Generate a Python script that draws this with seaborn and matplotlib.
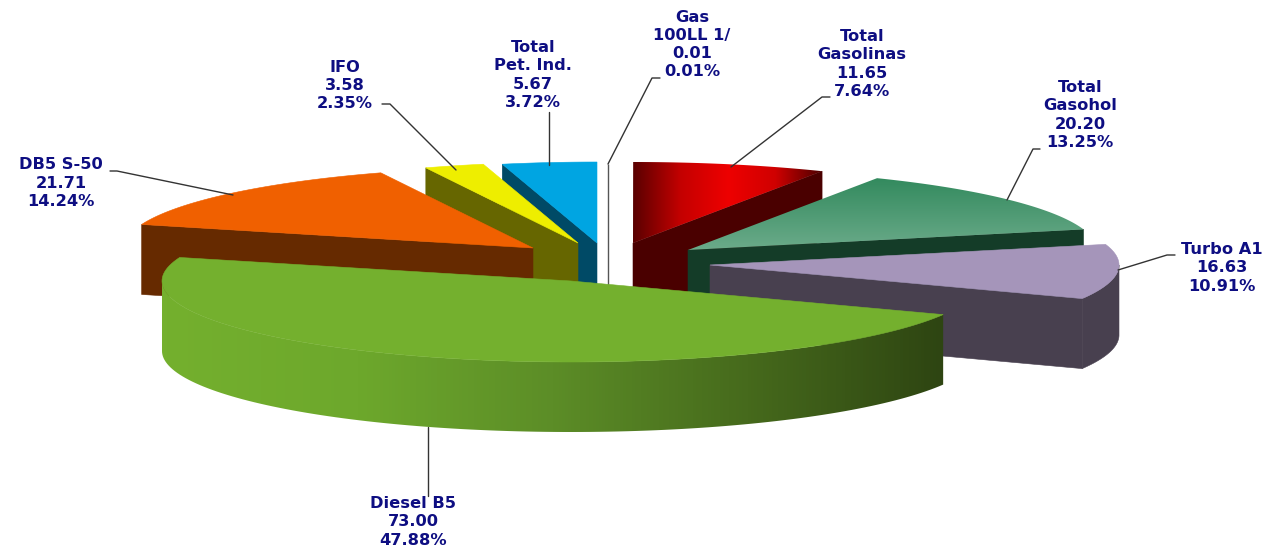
import numpy as np
import matplotlib
matplotlib.use("Agg")
import matplotlib.pyplot as plt
from matplotlib.patches import Polygon
import seaborn as sns

# clockwise from 12 o'clock
names = ["Gas\n100LL 1/", "Total\nGasolinas", "Total\nGasohol", "Turbo A1",
         "Diesel B5", "DB5 S-50", "IFO", "Total\nPet. Ind."]
values = [0.01, 11.65, 20.20, 16.63, 73.00, 21.71, 3.58, 5.67]

# where each exploded slice has its tip, in pixels
tip_x = [608, 633, 688, 710, 571, 533, 578, 597]
tip_y = [245, 243, 250, 265, 281, 248, 243, 243]
# colours: top face stops, then side wall
tops = [["#555555"],
        ["#5a0000", "#c40000", "#ee0000", "#d00000", "#4a0000"],
        ["#338a5e", "#6bab8a"],
        ["#a595ba"],
        ["#74b02e"],
        ["#f06000"],
        ["#eeee00"],
        ["#00a5e2"]]
walls = ["#555555", "#4a0000", "#143c28", "#48404f",
         ["#74b02e", "#6da82c", "#5c8d27", "#466a1c", "#2e4512"],
         "#662a00", "#666600", "#004a66"]
vertical_grad = [False, False, True, False, False, False, False, False]
# back to front
draw_order = [1, 0, 7, 6, 2, 5, 3, 4]

label_x = [692, 862, 1080, 1222, 413, 61, 345, 533]
label_y = [44.5, 64, 115, 268, 522, 183, 85.5, 75]
leaders = [[(660, 78), (652, 78), (608, 164)],
           [(830, 97), (822, 97), (731, 167)],
           [(1040, 149), (1033, 149), (1007, 200)],
           [(1175, 255), (1167, 255), (1118, 270)],
           [(428, 427), (428, 496)],
           [(110, 171), (117, 171), (233, 195)],
           [(382, 104), (390, 104), (456, 170)],
           [(549, 112), (549, 165)]]

RX, RY, DEPTH = 409, 81, 70
TEXT_COLOR = "#0e0e82"

sns.set_theme(style="white")
plt.rcParams["font.family"] = ["DejaVu Sans"]

fig = plt.figure(figsize=(12.7, 5.53), dpi=100)
ax = fig.add_axes([0, 0, 1, 1])
ax.axis("off")


def rim(cx, cy, a0, a1):
    t = np.radians(np.linspace(a0, a1, 120))
    return np.column_stack([cx + RX * np.sin(t), cy - RY * np.cos(t)])


def paint(points, color, vertical=False):
    points = np.asarray(points)
    if isinstance(color, str) or len(color) == 1:
        c = color if isinstance(color, str) else color[0]
        ax.add_patch(Polygon(points, closed=True, fc=c, ec=c, lw=0.4, zorder=1))
        return
    # gradient fill, clipped to the shape
    cmap = sns.blend_palette(color, n_colors=256, as_cmap=True)
    ramp = np.linspace(0, 1, 256)
    ramp = ramp[:, None] if vertical else ramp[None, :]
    x0, x1 = points[:, 0].min(), points[:, 0].max()
    y0, y1 = points[:, 1].min(), points[:, 1].max()
    im = ax.imshow(ramp, cmap=cmap, extent=(x0, x1, y1, y0), aspect="auto",
                   origin="upper", interpolation="bilinear", zorder=1)
    shape = Polygon(points, closed=True, fc="none", ec="none", transform=ax.transData)
    im.set_clip_path(shape)


total = sum(values)
edges = np.concatenate([[0], np.cumsum(values)]) / total * 360

for i in draw_order:
    cx, cy = tip_x[i], tip_y[i]
    a0, a1 = edges[i], edges[i + 1]
    arc = rim(cx, cy, a0, a1)
    tip = np.array([[cx, cy]])
    drop = np.array([0, DEPTH])

    if values[i] / total < 0.001:
        # too thin to have a face, only its edge shows
        ax.plot([cx, cx], [cy - RY, cy + DEPTH], color=walls[i], lw=1, zorder=1,
                solid_capstyle="butt")
        continue

    wall = walls[i]
    flat = wall if isinstance(wall, str) else wall[-1]
    # cut faces, only the ones turned to the viewer
    if a1 < 180:
        paint(np.vstack([tip, [arc[-1]], [arc[-1] + drop], tip + drop]), flat)
    if a0 > 180:
        paint(np.vstack([tip, [arc[0]], [arc[0] + drop], tip + drop]), flat)
    # outer surface, only the part facing front
    f0, f1 = max(a0, 90), min(a1, 270)
    if f0 < f1:
        front = rim(cx, cy, f0, f1)
        paint(np.vstack([front, (front + drop)[::-1]]), wall)
    # top face
    paint(np.vstack([tip, arc]), tops[i], vertical_grad[i])

for pts in leaders:
    xs, ys = zip(*pts)
    ax.plot(xs, ys, color="#333333", lw=1, zorder=20)

for i, name in enumerate(names):
    pct = values[i] / total * 100
    txt = f"{name}\n{values[i]:.2f}\n{pct:.2f}%"
    ax.text(label_x[i], label_y[i], txt, ha="center", va="center", color=TEXT_COLOR,
            fontsize=11.7, fontweight="bold", linespacing=1.27, zorder=21)

ax.set_xlim(0, 1270)
ax.set_ylim(553, 0)
fig.savefig("out.png", dpi=100, facecolor="white")
